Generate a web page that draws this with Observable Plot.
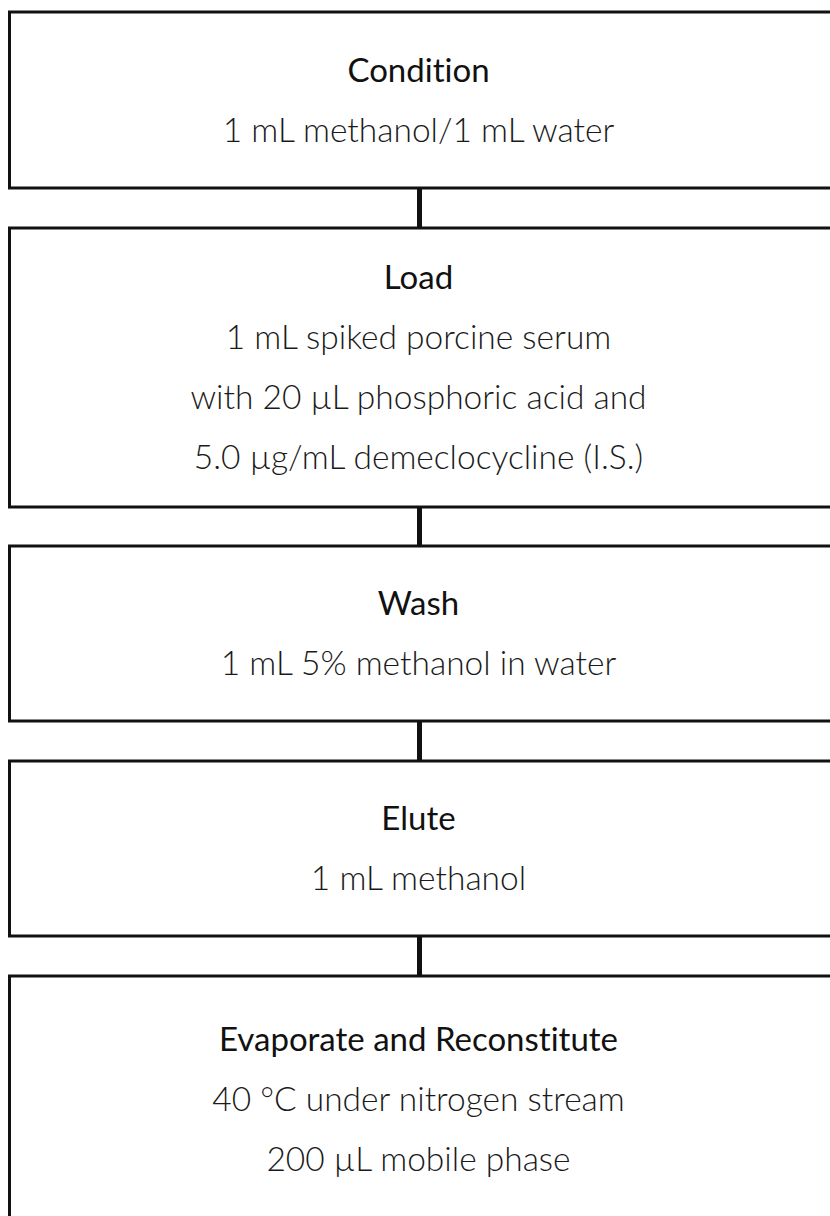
<!DOCTYPE html>
<html>
<head>
<meta charset="utf-8">
<script src="https://cdn.jsdelivr.net/npm/d3@7"></script>
<script src="https://cdn.jsdelivr.net/npm/@observablehq/plot@0.6"></script>
<style>
  html, body { margin: 0; padding: 0; background: #fff; }
  #chart svg { display: block; }
  #chart svg text { font-variant-ligatures: none; font-feature-settings: "liga" 0; }
</style>
</head>
<body>
<div id="chart"></div>
<script>
// ---- data ----
const stepTitles = ["Condition", "Load", "Wash", "Elute", "Evaporate and Reconstitute"];
const stepDetails = [
  ["1 mL methanol/1 mL water"],
  ["1 mL spiked porcine serum", "with 20 µL phosphoric acid and", "5.0 µg/mL demeclocycline (I.S.)"],
  ["1 mL 5% methanol in water"],
  ["1 mL methanol"],
  ["40 °C under nitrogen stream", "200 µL mobile phase"]
];
const boxTop = [12, 228, 546, 761, 976];
const boxBottom = [188, 507, 721, 936, 1222];

// ---- layout ----
const W = 830, H = 1216;
const boxLeft = 9.5, boxRight = 850, connectorX = 419;
const lineGap = 60, titleSize = 33, bodySize = 33.5;

const boxes = stepTitles.map((t, i) => ({title: t, y1: boxTop[i], y2: boxBottom[i]}));
const connectors = boxes.slice(1).map((b, i) => ({y1: boxBottom[i], y2: b.y1}));

const titleRows = [], bodyRows = [];
boxes.forEach((b, i) => {
  const lines = [b.title, ...stepDetails[i]];
  const n = lines.length;
  const center = (b.y1 + b.y2) / 2;
  const first = center + 11.5 - (n - 1) * lineGap / 2;
  lines.forEach((txt, j) => {
    const row = {text: txt, y: first + j * lineGap};
    (j === 0 ? titleRows : bodyRows).push(row);
  });
});

const chart = Plot.plot({
  width: W,
  height: H,
  margin: 0,
  x: {domain: [0, W], range: [0, W], axis: null},
  y: {domain: [0, H], range: [0, H], axis: null},
  style: {background: "#fff"},
  marks: [
    Plot.ruleX(connectors, {x: () => connectorX, y1: "y1", y2: "y2", stroke: "#111", strokeWidth: 5}),
    Plot.rect(boxes, {x1: () => boxLeft, x2: () => boxRight, y1: "y1", y2: "y2", fill: "#fff", stroke: "#111", strokeWidth: 3, clip: true}),
    Plot.text(titleRows, {x: () => W / 2 + 3, y: "y", text: "text", fontSize: titleSize, fontFamily: "Lato", fontWeight: 400, fill: "#111", textAnchor: "middle", lineAnchor: "middle", dy: -Math.round(0.32 * titleSize)}),
    Plot.text(bodyRows, {x: () => W / 2 + 3, y: "y", text: "text", fontSize: bodySize, fontFamily: "Lato", fontWeight: 300, fill: "#1a1a1a", textAnchor: "middle", lineAnchor: "middle", dy: -Math.round(0.32 * bodySize)})
  ]
});
document.getElementById("chart").appendChild(chart);
</script>
</body>
</html>
